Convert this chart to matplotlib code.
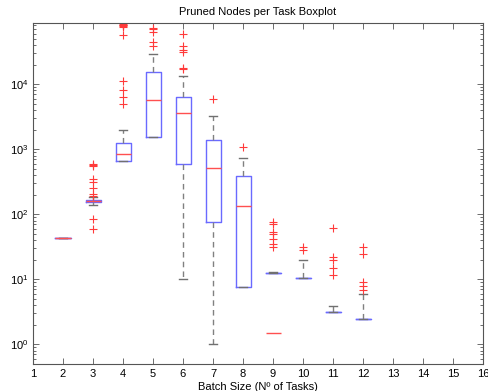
import numpy as np
import matplotlib
matplotlib.use('Agg')
import matplotlib.pyplot as plt
from matplotlib.ticker import LogLocator, FixedLocator

plt.rcParams['font.family'] = ['Liberation Sans', 'DejaVu Sans']

# Estatisticas de cada caixa (tamanho do lote 2..12)
batch_sizes = [2, 3, 4, 5, 6, 7, 8, 9, 10, 11, 12]
q1 = [43, 153, 660, 1560, 594, 75, 7.5, 12.5, 10.4, 3.2, 2.45]
q3 = [43, 166, 1236, 15600, 6450, 1370, 385, 12.5, 10.4, 3.2, 2.45]
medianas = [43, 160, 850, 5650, 3560, 510, 134, 1.48, np.nan, np.nan, np.nan]
whisker_inf = [43, 137, 660, 1560, 10, 1, 7.5, 12.5, 10.4, 3.2, 2.45]
whisker_sup = [43, 183, 1960, 29000, 13200, 3220, 730, 12.9, 19.6, 3.9, 5.9]
outliers = [
    [],
    [594, 573, 560, 345, 311, 251, 203, 193, 84, 59],
    [84000, 82000, 80000, 78000, 76000, 57000, 11000, 8200, 6300, 4900],
    [74000, 70000, 63000, 45000, 39000],
    [59000, 38000, 34000, 31600, 17600, 17000],
    [5900],
    [1100],
    [76, 70, 54, 49, 41, 35, 31],
    [31.7, 28.3],
    [61, 22.3, 19.6, 14.8, 11.6],
    [31, 24.5, 9.2, 7.9, 6.8],
]
xticks = list(range(1, 17))

stats = []
for i in range(len(batch_sizes)):
    stats.append({
        'med': medianas[i], 'q1': q1[i], 'q3': q3[i],
        'whislo': whisker_inf[i], 'whishi': whisker_sup[i],
        'fliers': outliers[i],
    })

fig = plt.figure(figsize=(4.89, 3.91), dpi=100)
ax = fig.add_axes([33 / 489, 1 - 364 / 391, 450 / 489, 341 / 391])

ax.bxp(stats, positions=batch_sizes, widths=0.5, capwidths=0.25,
       showfliers=True, manage_ticks=False,
       boxprops=dict(color='#6a6aff', linewidth=1.0),
       medianprops=dict(color='#ff5050', linewidth=1.0),
       whiskerprops=dict(color='#808080', linewidth=1.0, linestyle=(0, (4, 3))),
       capprops=dict(color='#707070', linewidth=1.0),
       flierprops=dict(marker='+', markersize=6, markeredgewidth=0.8,
                       markeredgecolor='#ff3a3a', linestyle='none'))

ax.set_yscale('log')
ax.set_ylim(0.5, 8.7e4)
ax.set_xlim(1, 16)
ax.xaxis.set_major_locator(FixedLocator(xticks))
ax.set_xticklabels([str(t) for t in xticks])
ax.yaxis.set_major_locator(LogLocator(base=10, numticks=10))
ax.yaxis.set_minor_locator(LogLocator(base=10, subs=np.arange(2, 10), numticks=20))

ax.tick_params(which='both', direction='in', top=True, right=True,
               labelsize=8, color='#555555', width=0.6)
ax.tick_params(which='major', length=4)
ax.tick_params(which='minor', length=2)
for s in ax.spines.values():
    s.set_color('#555555')
    s.set_linewidth(0.8)

ax.set_title('Pruned Nodes per Task Boxplot', fontsize=8, pad=6)
ax.set_xlabel('Batch Size (Nº of Tasks)', fontsize=8, labelpad=2)

fig.savefig('out.png', dpi=100)
